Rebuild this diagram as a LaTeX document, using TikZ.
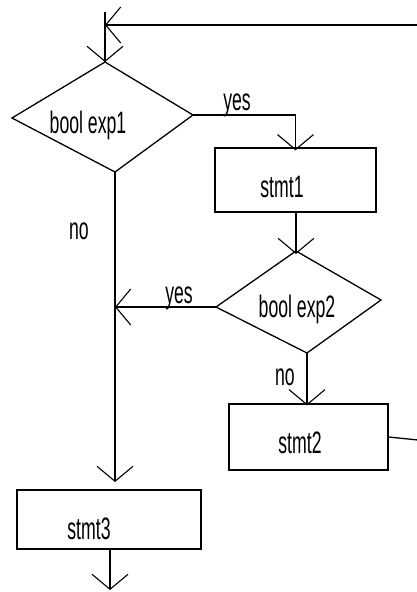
\documentclass[tikz,border=0pt]{standalone}
\usepackage{fontspec}
\setmainfont[FakeStretch=0.57]{Liberation Sans}
\usetikzlibrary{arrows.meta}
\begin{document}
\begin{tikzpicture}[x=1pt,y=-1pt,
  line width=1.3pt, line join=miter,
  >={Straight Barb[length=15pt,width=36pt,line width=1.1pt]},
  lbl/.style={inner sep=0pt, anchor=base, font=\fontsize{31}{34}\selectfont},
  boxnode/.style={draw, rectangle, inner sep=0pt, line width=1.4pt},
  flow/.style={draw, ->}]
\useasboundingbox (0,0) rectangle (417,592);
% diamond 1
\coordinate (d1t) at (105,62);
\coordinate (d1r) at (193,115);
\coordinate (d1b) at (115,172);
\coordinate (d1l) at (12,118);
\draw (d1t) -- (d1r) -- (d1b) -- (d1l) -- cycle;
\node[lbl] (d1text) at (88,133) {bool exp1};
% diamond 2
\coordinate (d2t) at (296,251);
\coordinate (d2r) at (381,300);
\coordinate (d2b) at (307,353);
\coordinate (d2l) at (216,307);
\draw (d2t) -- (d2r) -- (d2b) -- (d2l) -- cycle;
\node[lbl] (d2text) at (297,317) {bool exp2};
% boxes
\node[boxnode, minimum width=161pt, minimum height=64pt] (s1) at (295.5,180) {};
\node[lbl] (s1text) at (282,197) {stmt1};
\node[boxnode, minimum width=159pt, minimum height=66pt] (s2) at (308.5,437) {};
\node[lbl] (s2text) at (300,453) {stmt2};
\node[boxnode, minimum width=184pt, minimum height=59pt] (s3) at (109,519.5) {};
\node[lbl] (s3text) at (89,539) {stmt3};
% labels
\node[lbl] (yes1) at (237,110) {yes};
\node[lbl] (yes2) at (179,303) {yes};
\node[lbl] (no1) at (79,239) {no};
\node[lbl] (no2) at (285,385) {no};
% free ends
\coordinate (loopR) at (418,25);
\coordinate (loopL) at (105,25);
\coordinate (entry) at (105,12);
\coordinate (join) at (115,307);
\coordinate (s3in) at (115,482);
\coordinate (s2out) at (418,440);
\coordinate (exit) at (110,590);
% connectors
\draw[flow] (loopR) -- (loopL);
\draw[flow] (entry) -- (d1t);
\draw[flow] (d1r) -| ([yshift=-3pt]s1.north);
\draw[flow] (s1.south -| d2t) -- ([yshift=-3pt]d2t);
\draw[flow] (d2l) -- (join);
\draw[flow] (d1b) -- (s3in);
\draw[flow] (d2b) -- ([yshift=-2pt]s2.north -| d2b);
\draw (s2.east) -- (s2out);
\draw[flow] (s3.south -| exit) -- (exit);
\end{tikzpicture}
\end{document}
